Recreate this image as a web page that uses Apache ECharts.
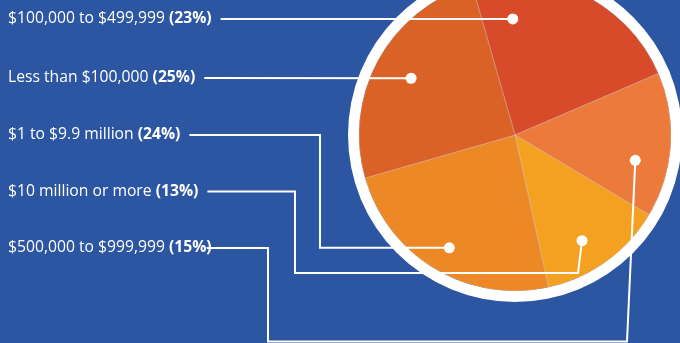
<!DOCTYPE html>
<html>
<head>
<meta charset="utf-8">
<script src="https://cdn.jsdelivr.net/npm/echarts@6/dist/echarts.min.js"></script>
<style>
  html, body { margin: 0; padding: 0; background: #2c55a2; }
  #main { width: 680px; height: 343px; }
</style>
</head>
<body>
<div id="main"></div>
<script>
// slices, clockwise from the top
const categories = ['$100,000 to $499,999', '$500,000 to $999,999', '$10 million or more', '$1 to $9.9 million', 'Less than $100,000'];
const shares = [23, 15, 13, 24, 25];
const sliceColors = ['#d84b2a', '#ec7a3b', '#f4a121', '#ed8827', '#db6226'];
// callouts down the left side (index into categories)
const labelOrder = [0, 4, 3, 2, 1];

// layout
const CENTER = [515, 135];
const R = 156;
const RING = 11;
const FONT = '"Open Sans", sans-serif';
const FONT_SIZE = 15.7;
const rowY = [19, 78, 135, 191.5, 248];
// gap between text end and leader line start, per row
const lineGap = [9, 9, 9, 9, -5];
// dot inside each slice: [fraction of slice angle, fraction of radius]
const dotPos = [[0.18, 0.744], [0.65, 0.788], [0.573, 0.802], [0.493, 0.837], [0.496, 0.759]];
// leader line elbows per row: move along x or y, then go to the dot
const routes = [
  [],
  [],
  [['x', 320], ['y', 'dot']],
  [['x', 295], ['y', 273], ['x', 578]],
  [['x', 268], ['y', 341.5], ['x', 627]]
];

const chart = echarts.init(document.getElementById('main'));
chart.setOption({
  backgroundColor: '#2c55a2',
  animation: false,
  series: [
    {
      type: 'pie',
      silent: true,
      center: CENTER,
      radius: [R, R + RING],
      label: {show: false},
      labelLine: {show: false},
      itemStyle: {color: '#ffffff'},
      data: [1]
    },
    {
      type: 'pie',
      silent: true,
      center: CENTER,
      radius: R,
      startAngle: 106,
      clockwise: true,
      label: {show: false},
      labelLine: {show: false},
      itemStyle: {borderColor: 'rgba(255,255,255,0.25)', borderWidth: 1},
      data: categories.map((c, i) => ({name: c, value: shares[i], itemStyle: {color: sliceColors[i]}}))
    }
  ]
});

const pieData = chart.getModel().getSeriesByIndex(1).getData();
const dots = categories.map((c, i) => {
  const L = pieData.getItemLayout(i);
  const a = L.startAngle + (L.endAngle - L.startAngle) * dotPos[i][0];
  const r = L.r * dotPos[i][1];
  return [L.cx + r * Math.cos(a), L.cy + r * Math.sin(a)];
});

const ctx = document.createElement('canvas').getContext('2d');
function textWidth(s, weight) {
  ctx.font = weight + ' ' + FONT_SIZE + 'px ' + FONT;
  return ctx.measureText(s).width;
}

const graphics = [];
labelOrder.forEach((ci, row) => {
  const y = rowY[row];
  const name = categories[ci] + ' ';
  const pct = '(' + shares[ci] + '%)';
  const w = textWidth(name, 'normal') + textWidth(pct, 'bold');
  graphics.push({
    type: 'text', x: 8, y: y, z: 100,
    style: {
      text: '{a|' + name + '}{b|' + pct + '}',
      verticalAlign: 'middle',
      rich: {
        a: {fill: '#ffffff', fontSize: FONT_SIZE, fontFamily: FONT},
        b: {fill: '#ffffff', fontSize: FONT_SIZE, fontFamily: FONT, fontWeight: 'bold'}
      }
    }
  });
  const dot = dots[ci];
  const pts = [[8 + w + lineGap[row], y]];
  routes[row].forEach(([axis, v]) => {
    const last = pts[pts.length - 1];
    const val = v === 'dot' ? (axis === 'x' ? dot[0] : dot[1]) : v;
    pts.push(axis === 'x' ? [val, last[1]] : [last[0], val]);
  });
  pts.push(dot);
  graphics.push({
    type: 'polyline', z: 100,
    shape: {points: pts},
    style: {stroke: '#ffffff', lineWidth: 2, fill: null}
  });
  graphics.push({
    type: 'circle', z: 101,
    shape: {cx: dot[0], cy: dot[1], r: 5.5},
    style: {fill: '#ffffff'}
  });
});
chart.setOption({graphic: graphics});
</script>
</body>
</html>
